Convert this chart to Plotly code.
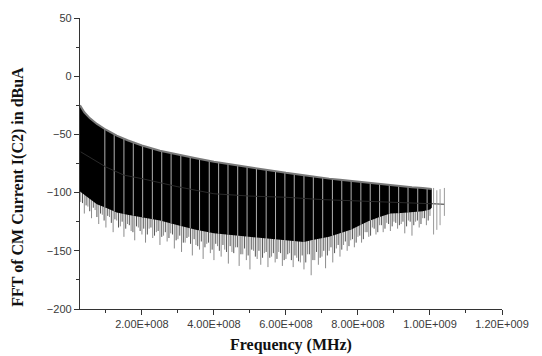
import numpy as np
import plotly.graph_objects as go

# ---------------- data ----------------
# envelope of the dense FFT band (MHz, dBuA)
env_freq_mhz = [28, 40, 55, 75, 100, 130, 160, 200, 250, 300, 350, 400, 450, 500, 550,
                600, 650, 670, 700, 720, 750, 780, 800, 830, 860, 890, 920, 950, 980, 1000, 1005]
upper_db = [-25, -31, -36, -41, -46, -51, -55, -59.5, -64, -67.5, -70.5, -73.5, -76, -78.5, -81,
            -83, -85, -86, -87, -88, -89, -90, -91, -92, -93, -94, -95, -95.5, -96, -96.5, -97]
lower_db = [-99, -102, -105, -110, -113, -117, -119, -121, -124, -128, -132, -135, -136.5, -138.5, -140,
            -141.5, -142.5, -141, -139.5, -138, -135, -132, -129, -124.5, -121, -118, -117.5, -117, -116, -114.5, -113]

# downward spikes below the dense band (MHz, dBuA tip)
spike_freq_mhz = list(range(30, 1001, 10))
spike_tip_db = [-108, -118, -112, -122, -115, -127, -119, -130, -121, -134,
                -124, -129, -138, -127, -133, -141, -130, -136, -143, -131,
                -139, -134, -145, -137, -142, -135, -148, -140, -151, -143,
                -138, -154, -145, -149, -157, -144, -152, -158, -146, -155,
                -149, -161, -151, -147, -163, -153, -158, -166, -150, -157,
                -162, -152, -164, -155, -160, -151, -163, -157, -152, -164,
                -156, -160, -166, -153, -171, -158, -162, -155, -165, -150,
                -160, -148, -155, -145, -150, -141, -147, -138, -143, -134,
                -138, -130, -136, -128, -134, -126, -133, -125, -131, -127,
                -135, -124, -137, -125, -130, -122, -128, -120]
spike2_freq_mhz = list(range(35, 996, 10))
spike2_tip_db = [-109, -111, -116, -113, -121, -118, -124, -120, -126, -123,
                 -130, -125, -131, -128, -134, -129, -133, -131, -136, -130,
                 -137, -133, -138, -134, -139, -136, -141, -137, -143, -139,
                 -144, -140, -146, -142, -147, -143, -149, -144, -150, -145,
                 -151, -146, -152, -147, -153, -148, -154, -149, -155, -150,
                 -156, -151, -156, -152, -157, -152, -158, -153, -158, -154,
                 -159, -154, -160, -153, -158, -151, -156, -150, -154, -147,
                 -152, -145, -149, -142, -146, -140, -143, -137, -140, -134,
                 -137, -131, -134, -128, -131, -127, -129, -126, -128, -125,
                 -129, -125, -128, -124, -127, -122, -124]

# light vertical gaps through the band (MHz)
gap_freq_mhz = [97, 123, 150, 176, 202, 229, 255, 281, 308, 334, 360, 387, 413, 439, 466,
                492, 518, 545, 571, 597, 623, 650, 676, 702, 729, 755, 781, 808, 834, 860,
                887, 913, 939, 966, 992]

# averaged trace visible inside the gaps
mean_freq_mhz = [30, 100, 150, 200, 300, 400, 500, 600, 700, 800, 900, 1000, 1040]
mean_db = [-65, -78, -85, -88, -95, -101, -103, -104, -106, -107, -108, -109, -110]

# sparse tail beyond 1 GHz
tail_freq_mhz = [1010, 1019, 1028, 1040]
tail_top_db = [-96, -98, -97, -96]
tail_bottom_db = [-136, -132, -128, -120]

# axes
x_tick_vals = [2e8, 4e8, 6e8, 8e8, 1e9, 1.2e9]
x_tick_text = ["2.00E+008", "4.00E+008", "6.00E+008", "8.00E+008", "1.00E+009", "1.20E+009"]
x_minor_vals = [1e8, 3e8, 5e8, 7e8, 9e8, 1.1e9]
y_tick_vals = [50, 0, -50, -100, -150, -200]
y_minor_vals = [25, -25, -75, -125, -175]

# ---------------- figure ----------------
MHZ = 1e6
ef = np.array(env_freq_mhz) * MHZ
up = np.array(upper_db)
lo = np.array(lower_db)


def segments(xs, y0s, y1s):
    X, Y = [], []
    for x, a, b in zip(xs, y0s, y1s):
        X += [x, x, None]
        Y += [a, b, None]
    return X, Y


fig = go.Figure()

# spikes under the band
sf = np.array(spike_freq_mhz) * MHZ
sx, sy = segments(sf, np.interp(sf, ef, lo) + 1, spike_tip_db)
fig.add_trace(go.Scatter(x=sx, y=sy, mode="lines", line=dict(color="#8c8c8c", width=1),
                         hoverinfo="skip", showlegend=False))
sf2 = np.array(spike2_freq_mhz) * MHZ
sx2, sy2 = segments(sf2, np.interp(sf2, ef, lo) + 1, spike2_tip_db)
fig.add_trace(go.Scatter(x=sx2, y=sy2, mode="lines", line=dict(color="#555555", width=1),
                         hoverinfo="skip", showlegend=False))

# dense black band
fig.add_trace(go.Scatter(x=ef, y=lo, mode="lines", line=dict(width=0, color="black"),
                         hoverinfo="skip", showlegend=False))
fig.add_trace(go.Scatter(x=ef, y=up, mode="lines", line=dict(width=0, color="black"),
                         fill="tonexty", fillcolor="black", hoverinfo="skip", showlegend=False))

# light gaps
gf = np.array(gap_freq_mhz) * MHZ
gx, gy = segments(gf, np.interp(gf, ef, lo), np.interp(gf, ef, up))
fig.add_trace(go.Scatter(x=gx, y=gy, mode="lines", line=dict(color="#c4c4c4", width=0.9),
                         hoverinfo="skip", showlegend=False))

# grey fringe on the upper edge
fig.add_trace(go.Scatter(x=ef, y=up, mode="lines", line=dict(color="#7a7a7a", width=2),
                         hoverinfo="skip", showlegend=False))

# mean trace
fig.add_trace(go.Scatter(x=np.array(mean_freq_mhz) * MHZ, y=mean_db, mode="lines",
                         line=dict(color="#2a2a2a", width=1), hoverinfo="skip", showlegend=False))

# tail
tf = np.array(tail_freq_mhz) * MHZ
tx, ty = segments(tf, tail_bottom_db, tail_top_db)
fig.add_trace(go.Scatter(x=tx, y=ty, mode="lines", line=dict(color="#9a9a9a", width=1),
                         hoverinfo="skip", showlegend=False))

tick_font = dict(family="Liberation Sans, Arial, sans-serif", size=11, color="#3a3a3a")
title_font = dict(family="Liberation Serif, Times New Roman, serif", size=16, color="#111")

fig.update_xaxes(range=[2.8e7, 1.2e9], showline=True, linecolor="#333", linewidth=1.3,
                 ticks="outside", ticklen=5, tickwidth=1.2, tickcolor="#333",
                 tickmode="array", tickvals=x_tick_vals, ticktext=x_tick_text,
                 tickfont=tick_font, showgrid=False, zeroline=False,
                 minor=dict(tickmode="array", tickvals=x_minor_vals, ticks="outside",
                            ticklen=3, tickwidth=1.2, tickcolor="#333"))
fig.update_yaxes(range=[-200, 50], showline=True, linecolor="#333", linewidth=1.3,
                 ticks="outside", ticklen=5, tickwidth=1.2, tickcolor="#333",
                 tickmode="array", tickvals=y_tick_vals, tickfont=tick_font,
                 showgrid=False, zeroline=False,
                 minor=dict(tickmode="array", tickvals=y_minor_vals, ticks="outside",
                            ticklen=3, tickwidth=1.2, tickcolor="#333"))

fig.add_annotation(text="<b>FFT of CM Current I(C2) in dBuA</b>", xref="paper", yref="paper",
                   x=-0.147, y=0.42, textangle=-90, showarrow=False, font=title_font,
                   xanchor="center", yanchor="middle")
fig.add_annotation(text="<b>Frequency (MHz)</b>", xref="paper", yref="paper",
                   x=0.5, y=-0.125, showarrow=False, font=title_font,
                   xanchor="center", yanchor="middle")

fig.update_layout(width=542, height=356, margin=dict(l=80, r=40, t=16, b=47),
                  plot_bgcolor="white", paper_bgcolor="white", showlegend=False)

fig.write_html("out.html", config={"displayModeBar": False},
               post_script="document.body.style.margin='0';document.body.style.overflow='hidden';")
